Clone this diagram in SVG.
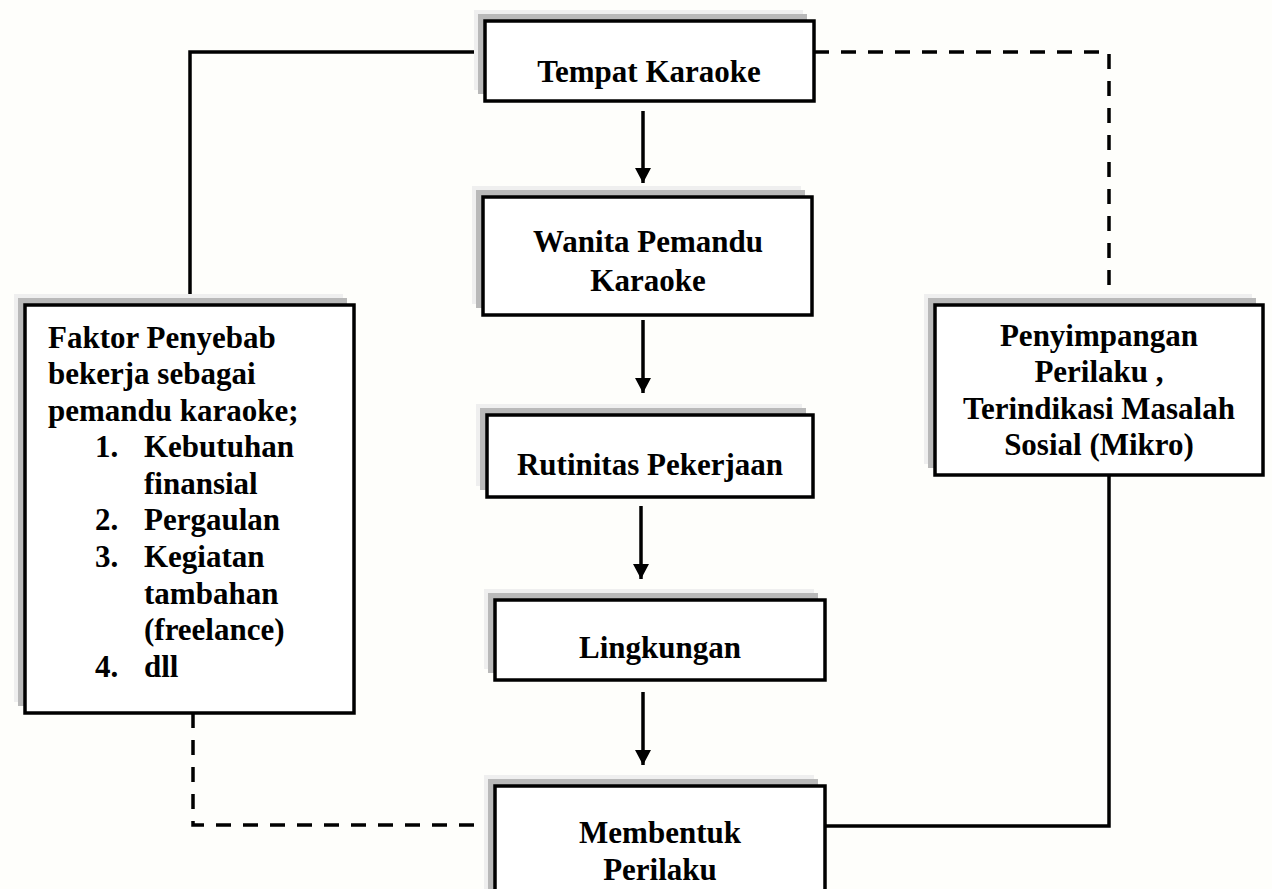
<svg xmlns="http://www.w3.org/2000/svg" width="1272" height="889" viewBox="0 0 1272 889">
<style>
.bg{fill:#fefefb}
.sh1{fill:#efefef}
.sh2{fill:#b9b9b9}
.box{fill:#ffffff;stroke:#000;stroke-width:3.5}
.t{font-family:"Liberation Serif","Times New Roman",serif;font-weight:bold;font-size:31px;fill:#000}
.c{text-anchor:middle}
.ln{fill:none;stroke:#000;stroke-width:3.5}
.dash{stroke-dasharray:15 12}
</style>
<defs>
<marker id="ah" markerUnits="userSpaceOnUse" markerWidth="16" markerHeight="16" refX="15" refY="8" orient="auto">
<path d="M0,0 L15,8 L0,16 Z" fill="#000"/>
</marker>
</defs>
<rect class="bg" x="0" y="0" width="1272" height="889"/>

<g id="connectors">
<path class="ln" d="M485,52 H190 V305"/>
<path class="ln dash" d="M814,52 H1109 V305"/>
<path class="ln dash" d="M193,713 V825 H495"/>
<path class="ln" d="M825,826 H1109 V475"/>
<line class="ln" x1="643" y1="111" x2="643" y2="183" marker-end="url(#ah)"/>
<line class="ln" x1="643" y1="320" x2="643" y2="393" marker-end="url(#ah)"/>
<line class="ln" x1="641" y1="506" x2="641" y2="579" marker-end="url(#ah)"/>
<line class="ln" x1="643" y1="692" x2="643" y2="765" marker-end="url(#ah)"/>
</g>

<g id="tempat">
<rect class="sh1" x="474" y="10" width="329" height="80"/>
<rect class="sh2" x="478" y="14" width="329" height="80"/>
<rect class="box" x="485" y="21" width="329" height="80"/>
<text class="t c" x="649" y="82">Tempat Karaoke</text>
</g>

<g id="wanita">
<rect class="sh1" x="472" y="186" width="329" height="118"/>
<rect class="sh2" x="476" y="190" width="329" height="118"/>
<rect class="box" x="483" y="197" width="329" height="118"/>
<text class="t c" x="648" y="252">Wanita Pemandu</text>
<text class="t c" x="648" y="291">Karaoke</text>
</g>

<g id="rutinitas">
<rect class="sh1" x="476" y="404" width="326" height="82"/>
<rect class="sh2" x="480" y="408" width="326" height="82"/>
<rect class="box" x="487" y="415" width="326" height="82"/>
<text class="t c" x="650" y="475">Rutinitas Pekerjaan</text>
</g>

<g id="lingkungan">
<rect class="sh1" x="484" y="589" width="330" height="80"/>
<rect class="sh2" x="488" y="593" width="330" height="80"/>
<rect class="box" x="495" y="600" width="330" height="80"/>
<text class="t c" x="660" y="658">Lingkungan</text>
</g>

<g id="membentuk">
<rect class="sh1" x="484" y="775" width="330" height="130"/>
<rect class="sh2" x="488" y="779" width="330" height="130"/>
<rect class="box" x="495" y="786" width="330" height="130"/>
<text class="t c" x="660" y="843">Membentuk</text>
<text class="t c" x="660" y="880">Perilaku</text>
</g>

<g id="faktor">
<rect class="sh1" x="14" y="294" width="329" height="408"/>
<rect class="sh2" x="18" y="298" width="329" height="408"/>
<rect class="box" x="25" y="305" width="329" height="408"/>
<text class="t" x="48" y="348">Faktor Penyebab</text>
<text class="t" x="48" y="384">bekerja sebagai</text>
<text class="t" x="48" y="421">pemandu karaoke;</text>
<text class="t" x="95" y="457">1.</text>
<text class="t" x="144" y="457">Kebutuhan</text>
<text class="t" x="144" y="494">finansial</text>
<text class="t" x="95" y="530">2.</text>
<text class="t" x="144" y="530">Pergaulan</text>
<text class="t" x="95" y="567">3.</text>
<text class="t" x="144" y="567">Kegiatan</text>
<text class="t" x="144" y="604">tambahan</text>
<text class="t" x="144" y="640">(freelance)</text>
<text class="t" x="95" y="677">4.</text>
<text class="t" x="144" y="677">dll</text>
</g>

<g id="penyimpangan">
<rect class="sh1" x="924" y="294" width="328" height="170"/>
<rect class="sh2" x="928" y="298" width="328" height="170"/>
<rect class="box" x="935" y="305" width="328" height="170"/>
<text class="t c" x="1099" y="346">Penyimpangan</text>
<text class="t c" x="1099" y="382">Perilaku ,</text>
<text class="t c" x="1099" y="419">Terindikasi Masalah</text>
<text class="t c" x="1099" y="455">Sosial (Mikro)</text>
</g>
</svg>
